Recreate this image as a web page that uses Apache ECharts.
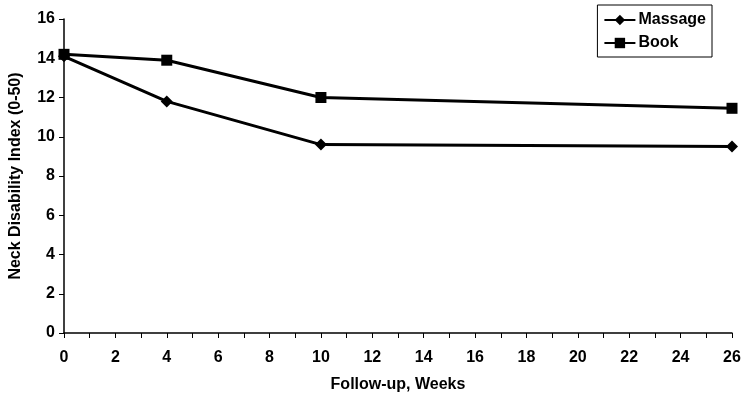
<!DOCTYPE html>
<html><head><meta charset="utf-8">
<script src="https://cdn.jsdelivr.net/npm/echarts@6/dist/echarts.min.js"></script>
<style>html,body{margin:0;padding:0;background:#fff}#c{width:745px;height:402px}</style>
</head><body><div id="c"></div>
<script>
const weeks = [0, 4, 10, 26];
const massage = [14.1, 11.8, 9.6, 9.5];
const book = [14.2, 13.9, 12.0, 11.45];
const xTitle = 'Follow-up, Weeks';
const yTitle = 'Neck Disability Index (0-50)';

const font = 'Liberation Sans, Arial, sans-serif';
const chart = echarts.init(document.getElementById('c'), null, {renderer: 'canvas'});
const axisCommon = {
  axisLine: {show: true, lineStyle: {color: '#000', width: 1.5}},
  axisTick: {show: true, inside: false, length: 5, lineStyle: {color: '#000', width: 1}},
  axisLabel: {color: '#000', fontFamily: font, fontWeight: 'bold', fontSize: 16},
  splitLine: {show: false},
  nameTextStyle: {color: '#000', fontFamily: font, fontWeight: 'bold', fontSize: 16}
};
chart.setOption({
  animation: false,
  grid: {left: 63, right: 13, top: 19, bottom: 69, containLabel: false},
  legend: {
    right: 33, top: 5, orient: 'vertical',
    data: ['Massage', 'Book'],
    borderColor: '#000', borderWidth: 1, padding: [7, 6, 6, 6],
    itemWidth: 31, itemHeight: 13, itemGap: 7,
    textStyle: {color: '#000', fontFamily: font, fontWeight: 'bold', fontSize: 16, padding: [0, 0, 0, -2]}
  },
  xAxis: Object.assign({}, axisCommon, {
    type: 'value', min: 0, max: 26, interval: 2,
    minorTick: {show: true, splitNumber: 2, length: 5, lineStyle: {color: '#000', width: 1}},
    axisLabel: Object.assign({}, axisCommon.axisLabel, {margin: 17}),
    name: xTitle, nameLocation: 'middle', nameGap: 44
  }),
  yAxis: Object.assign({}, axisCommon, {
    type: 'value', min: 0, max: 16, interval: 2,
    axisLabel: Object.assign({}, axisCommon.axisLabel, {margin: 9}),
    name: yTitle, nameLocation: 'middle', nameGap: 40
  }),
  series: [
    {name: 'Massage', type: 'line', data: weeks.map((w, i) => [w, massage[i]]),
     symbol: 'diamond', symbolSize: 12, lineStyle: {color: '#000', width: 3},
     itemStyle: {color: '#000'}},
    {name: 'Book', type: 'line', data: weeks.map((w, i) => [w, book[i]]),
     symbol: 'rect', symbolSize: 11, lineStyle: {color: '#000', width: 3},
     itemStyle: {color: '#000'}}
  ]
});
</script></body></html>
